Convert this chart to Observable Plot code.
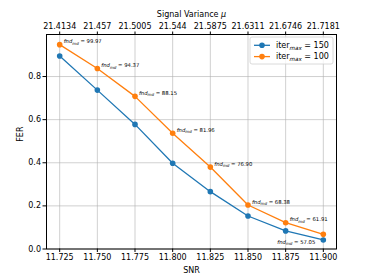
<!DOCTYPE html>
<html>
<head>
<meta charset="utf-8">
<script src="https://cdn.jsdelivr.net/npm/d3@7"></script>
<script src="https://cdn.jsdelivr.net/npm/@observablehq/plot@0.6"></script>
<style>
body { margin: 0; background: #fff; }
svg { font-family: "DejaVu Sans", sans-serif; }
</style>
</head>
<body>
<div id="chart"></div>
<script>
const snr = [11.725, 11.750, 11.775, 11.800, 11.825, 11.850, 11.875, 11.900];
const signalVariance = ["21.4134", "21.457", "21.5005", "21.544", "21.5875", "21.6311", "21.6746", "21.7181"];
const fer150 = [0.895, 0.737, 0.578, 0.398, 0.266, 0.153, 0.084, 0.042];
const fer100 = [0.948, 0.837, 0.708, 0.537, 0.380, 0.204, 0.122, 0.068];
const fndmd = ["99.97", "94.37", "88.15", "81.96", "76.90", "68.38", "61.91", "57.05"];
const yTicks = [0, 0.2, 0.4, 0.6, 0.8];
const seriesNames = ["150", "100"];
const colors = ["#1f77b4", "#ff7f0e"];

const rows = [];
snr.forEach((s, i) => {
  rows.push({snr: s, fer: fer150[i], series: seriesNames[0]});
  rows.push({snr: s, fer: fer100[i], series: seriesNames[1]});
});
const ann = snr.slice(0, 7).map((s, i) => ({snr: s, fer: fer100[i], label: "fnd_md = " + fndmd[i]}));
const annLast = [{snr: snr[7], fer: fer150[7], label: "fnd_md = " + fndmd[7]}];

const plot = Plot.plot({
  width: 374,
  height: 280,
  marginLeft: 46,
  marginRight: 38,
  marginTop: 34,
  marginBottom: 31.5,
  style: {fontFamily: "DejaVu Sans, sans-serif", fontSize: "8px", background: "white", color: "black"},
  x: {domain: [11.71625, 11.90875]},
  y: {domain: [0, 0.995]},
  color: {domain: seriesNames, range: colors},
  marks: [
    Plot.gridX(snr, {stroke: "#b0b0b0", strokeOpacity: 0.75, strokeWidth: 0.8}),
    Plot.gridY(yTicks, {stroke: "#b0b0b0", strokeOpacity: 0.75, strokeWidth: 0.8}),
    Plot.axisX({ticks: snr, tickFormat: d3.format(".3f"), tickSize: 3.5, tickPadding: 2, label: null, fontSize: 8}),
    Plot.axisX({anchor: "top", ticks: snr, tickFormat: (d, i) => signalVariance[i], tickSize: 3.5, tickPadding: 2, label: null, fontSize: 8}),
    Plot.axisY({ticks: yTicks, tickFormat: d3.format(".1f"), tickSize: 3.5, tickPadding: 2, label: null, fontSize: 8}),
    Plot.text(["SNR"], {frameAnchor: "bottom", dy: 21, fontSize: 8, lineAnchor: "middle"}),
    Plot.text(["FER"], {frameAnchor: "left", dx: -26, rotate: -90, fontSize: 8}),
    Plot.text(["Signal Variance μ"], {frameAnchor: "top", dy: -20, fontSize: 8, lineAnchor: "middle", className: "toptitle"}),
    Plot.line(rows, {x: "snr", y: "fer", z: "series", stroke: "series", strokeWidth: 1.3}),
    Plot.dot(rows, {x: "snr", y: "fer", fill: "series", r: 2.8}),
    Plot.text(ann, {x: "snr", y: "fer", text: "label", textAnchor: "start", dx: 4, dy: -3, fontSize: 5.3, className: "ann"}),
    Plot.text(annLast, {x: "snr", y: "fer", text: "label", textAnchor: "end", dx: -8, dy: 2, fontSize: 5.3, className: "ann"}),
    Plot.frame({stroke: "black", strokeWidth: 1})
  ]
});
document.getElementById("chart").appendChild(plot);

const svg = d3.select(plot);
// subscripts in annotations
svg.selectAll("g.ann text").each(function() {
  const t = d3.select(this);
  const m = t.text().match(/^fnd_md = (.*)$/);
  if (!m) return;
  t.text(null);
  t.append("tspan").attr("font-style", "italic").text("fnd");
  t.append("tspan").attr("font-style", "italic").attr("font-size", 4).attr("dy", 1.3).text("md");
  t.append("tspan").attr("dy", -1.3).text(" = " + m[1]);
});
// italic mu in top title
svg.selectAll("g.toptitle text").each(function() {
  const t = d3.select(this);
  const s = t.text();
  if (!s.endsWith("μ")) return;
  t.text(null);
  t.append("tspan").text(s.slice(0, -1));
  t.append("tspan").attr("font-style", "italic").text("μ");
});

// legend (upper right, inside frame)
const lg = svg.append("g").attr("transform", "translate(250,37)").attr("text-anchor", "start");
lg.append("rect").attr("x", 0).attr("y", 0).attr("width", 83).attr("height", 27).attr("rx", 2)
  .attr("fill", "white").attr("fill-opacity", 0.8).attr("stroke", "#d0d0d0").attr("stroke-width", 0.8);
seriesNames.forEach((name, i) => {
  const cy = 8.3 + i * 11.3;
  lg.append("line").attr("x1", 4).attr("x2", 20).attr("y1", cy).attr("y2", cy).attr("stroke", colors[i]).attr("stroke-width", 1.3);
  lg.append("circle").attr("cx", 12).attr("cy", cy).attr("r", 2.8).attr("fill", colors[i]);
  const t = lg.append("text").attr("x", 26).attr("y", cy).attr("dy", "0.35em").attr("text-anchor", "start").attr("font-size", 8).attr("fill", "black");
  t.append("tspan").text("iter");
  t.append("tspan").attr("font-style", "italic").attr("font-size", 5.6).attr("dy", 1.8).text("max");
  t.append("tspan").attr("dy", -1.8).text(" = " + name);
});
</script>
</body>
</html>
